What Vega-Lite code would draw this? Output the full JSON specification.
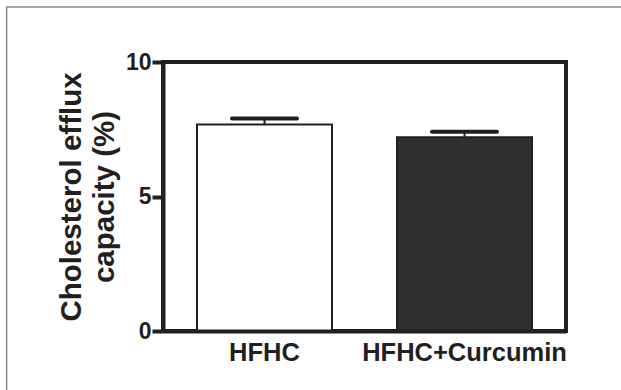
{
  "$schema": "https://vega.github.io/schema/vega-lite/v6.json",
  "width": 403,
  "height": 269,
  "autosize": {"type": "none"},
  "padding": {"left": 163, "top": 62, "right": 55, "bottom": 59},
  "background": "white",
  "config": {
    "view": {"stroke": "#231f20", "strokeWidth": 4},
    "font": "Liberation Sans"
  },
  "layer": [
    {
      "data": {"values": [
        {"group": "HFHC", "mean": 7.68, "upper": 7.9},
        {"group": "HFHC+Curcumin", "mean": 7.2, "upper": 7.41}
      ]},
      "encoding": {
        "x": {
          "field": "group", "type": "nominal", "sort": ["HFHC", "HFHC+Curcumin"],
          "scale": {"paddingInner": 0.325, "paddingOuter": 0.17},
          "axis": {
            "title": null, "labelAngle": 0, "ticks": false, "domain": true,
            "domainWidth": 4, "domainColor": "#231f20", "zindex": 1, "labelLimit": 400,
            "labelFont": "Liberation Sans", "labelFontSize": 25.5, "labelFontWeight": "bold",
            "labelColor": "#231f20", "labelPadding": 9
          }
        }
      },
      "layer": [
        {
          "mark": {"type": "bar", "stroke": "#231f20", "strokeWidth": 2},
          "encoding": {
            "y": {
              "field": "mean", "type": "quantitative",
              "scale": {"domain": [0, 10], "nice": false},
              "axis": {
                "title": ["Cholesterol efflux", "capacity (%)"],
                "values": [0, 5, 10], "grid": false,
                "domain": true, "domainWidth": 4, "domainColor": "#231f20",
                "tickSize": 11, "tickWidth": 4, "tickColor": "#231f20",
                "labelFont": "Liberation Sans", "labelFontSize": 23, "labelFontWeight": "bold",
                "labelColor": "#231f20", "labelPadding": 1,
                "titleFont": "Liberation Sans", "titleFontSize": 29.5, "titleFontWeight": "bold",
                "titleColor": "#231f20", "titleLineHeight": 33, "titlePadding": 6, "zindex": 1
              }
            },
            "fill": {
              "field": "group", "type": "nominal",
              "scale": {"domain": ["HFHC", "HFHC+Curcumin"], "range": ["#ffffff", "#302e2f"]},
              "legend": null
            }
          }
        },
        {
          "mark": {"type": "rule", "strokeWidth": 2, "color": "#231f20"},
          "encoding": {
            "y": {"field": "mean", "type": "quantitative"},
            "y2": {"field": "upper"}
          }
        },
        {
          "mark": {"type": "tick", "size": 69, "thickness": 4, "color": "#231f20", "opacity": 1, "cornerRadius": 2},
          "encoding": {
            "y": {"field": "upper", "type": "quantitative"}
          }
        }
      ]
    },
    {
      "data": {"values": [{"x0": -0.388, "x1": 1.2, "y0": -0.3, "y1": 1.204}]},
      "mark": {"type": "rect", "fill": null, "stroke": "#8a8a8a", "strokeWidth": 1.5},
      "encoding": {
        "x": {"field": "x0", "type": "quantitative", "scale": {"domain": [0, 1], "nice": false, "zero": false}, "axis": null},
        "x2": {"field": "x1"},
        "y": {"field": "y0", "type": "quantitative", "scale": {"domain": [0, 1], "nice": false, "zero": false}, "axis": null},
        "y2": {"field": "y1"}
      }
    }
  ],
  "resolve": {"scale": {"x": "independent", "y": "independent", "fill": "independent"}}
}
